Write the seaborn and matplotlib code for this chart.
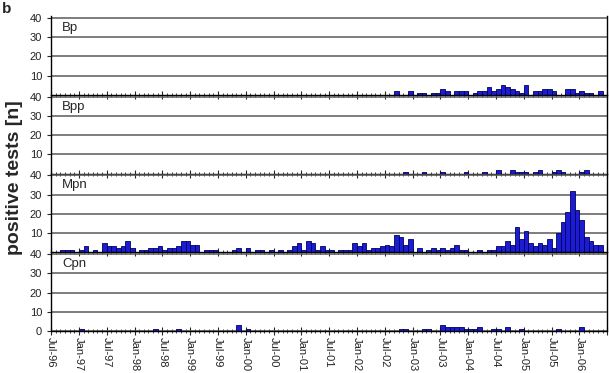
import numpy as np
import pandas as pd
import matplotlib.pyplot as plt
import seaborn as sns

# monthly counts of positive tests, Jul-96 .. Jun-06 (12 values per row)
bp = [0] * 72 + [
    0, 0, 2, 0, 0, 2, 0, 1, 1, 0, 1, 1,
    3, 2, 0, 2, 2, 2, 0, 1, 2, 2, 4, 2,
    3, 5, 4, 3, 2, 1, 5, 0, 2, 2, 3, 3,
    2, 0, 0, 3, 3, 1, 2, 1, 1, 0, 2, 0]

bpp = [0] * 72 + [
    0, 0, 0, 0, 1, 0, 0, 0, 1, 0, 0, 0,
    1, 0, 0, 0, 0, 1, 0, 0, 0, 1, 0, 0,
    2, 0, 0, 2, 1, 1, 1, 0, 1, 2, 0, 0,
    1, 2, 1, 0, 0, 0, 1, 2, 0, 0, 0, 0]

mpn = [
    0, 0, 1, 1, 1, 0, 1, 3, 0, 1, 0, 5,
    3, 3, 2, 3, 6, 2, 0, 1, 1, 2, 2, 3,
    1, 2, 2, 3, 6, 6, 4, 4, 0, 1, 1, 1,
    0, 0, 0, 1, 2, 0, 2, 0, 1, 1, 0, 1,
    0, 1, 0, 1, 3, 5, 1, 6, 5, 1, 3, 1,
    1, 0, 1, 1, 1, 5, 3, 5, 1, 2, 2, 3,
    4, 3, 9, 8, 4, 7, 0, 2, 0, 1, 2, 1,
    2, 1, 2, 4, 1, 1, 0, 0, 1, 0, 1, 1,
    3, 3, 6, 4, 13, 7, 11, 5, 3, 5, 4, 7,
    2, 10, 16, 21, 32, 22, 17, 8, 6, 4, 4, 0]

cpn = [
    0, 0, 0, 0, 0, 0, 1, 0, 0, 0, 0, 0,
    0, 0, 0, 0, 0, 0, 0, 0, 0, 0, 1, 0,
    0, 0, 0, 1, 0, 0, 0, 0, 0, 0, 0, 0,
    0, 0, 0, 0, 3, 0, 1, 0, 0, 0, 0, 0,
    0, 0, 0, 0, 0, 0, 0, 0, 0, 0, 0, 0,
    0, 0, 0, 0, 0, 0, 0, 0, 0, 0, 0, 0,
    0, 0, 0, 1, 1, 0, 0, 0, 1, 1, 0, 0,
    3, 2, 2, 2, 2, 1, 1, 1, 2, 0, 0, 1,
    1, 0, 2, 0, 0, 1, 0, 0, 0, 0, 0, 0,
    0, 1, 0, 0, 0, 0, 2, 0, 0, 0, 0, 0]

organisms = ['Bp', 'Bpp', 'Mpn', 'Cpn']
tick_labels = ['Jul-96', 'Jan-97', 'Jul-97', 'Jan-98', 'Jul-98', 'Jan-99',
               'Jul-99', 'Jan-00', 'Jul-00', 'Jan-01', 'Jul-01', 'Jan-02',
               'Jul-02', 'Jan-03', 'Jul-03', 'Jan-04', 'Jul-04', 'Jan-05',
               'Jul-05', 'Jan-06']

n_months = len(mpn)
df = pd.DataFrame({
    'month': list(range(n_months)) * 4,
    'organism': np.repeat(organisms, n_months),
    'count': bp + bpp + mpn + cpn,
})

sns.set_style('white')
plt.rcParams['font.family'] = ['Liberation Sans', 'DejaVu Sans']

fig, axes = plt.subplots(4, 1, figsize=(6.09, 3.73), dpi=100)
fig.subplots_adjust(left=0.084, right=0.997, top=1 - 16 / 373, bottom=1 - 331 / 373, hspace=0)

for i, (ax, name) in enumerate(zip(axes, organisms)):
    sub = df[df['organism'] == name]
    sns.barplot(data=sub, x='month', y='count', color='#1c1cd2', saturation=1,
                width=1.0, edgecolor='#000060', linewidth=0.6, ax=ax)
    ax.set_facecolor('none')
    ax.set_axisbelow(True)
    ax.set_xlim(-0.5, n_months - 0.5)
    ax.set_ylim(0, 41)
    bottom = i == len(organisms) - 1
    ax.set_yticks([0, 10, 20, 30, 40] if bottom else [10, 20, 30, 40])
    ax.yaxis.grid(True, color='#5a5a5a', linewidth=1.1)
    ax.tick_params(axis='y', labelsize=8, labelcolor='#222222', length=3, left=True, width=0.8)

    # month ticks on the zero line, half-year ticks longer
    ax.set_xticks(np.arange(-0.5, n_months, 6))
    ax.set_xticks(np.arange(-0.5, n_months, 1), minor=True)
    ax.tick_params(axis='x', which='major', direction='inout', length=6, width=0.8,
                   bottom=True, pad=1)
    ax.tick_params(axis='x', which='minor', direction='inout', length=3, width=0.6, bottom=True)
    if bottom:
        ax.set_xticklabels(tick_labels + [''], rotation=-90, fontsize=8, color='#222222')
    else:
        ax.set_xticklabels([])

    ax.axhline(0, color='black', linewidth=1.0, zorder=6, clip_on=False)
    for side in ['left', 'right']:
        ax.spines[side].set_color('black')
        ax.spines[side].set_linewidth(1.0)
        ax.spines[side].set_zorder(6)
    ax.spines['bottom'].set_visible(False)
    ax.spines['top'].set_visible(False)
    ax.set_xlabel('')
    ax.set_ylabel('')
    ax.text(0.02, 0.85, name, transform=ax.transAxes, fontsize=9.5, va='center')

fig.text(0.024, 0.525, 'positive tests [n]', rotation=90, fontsize=14,
         fontweight='bold', ha='center', va='center')
fig.text(0.004, 0.975, 'b', fontsize=11, fontweight='bold', ha='left', va='center')

fig.savefig('out.png', dpi=100)
